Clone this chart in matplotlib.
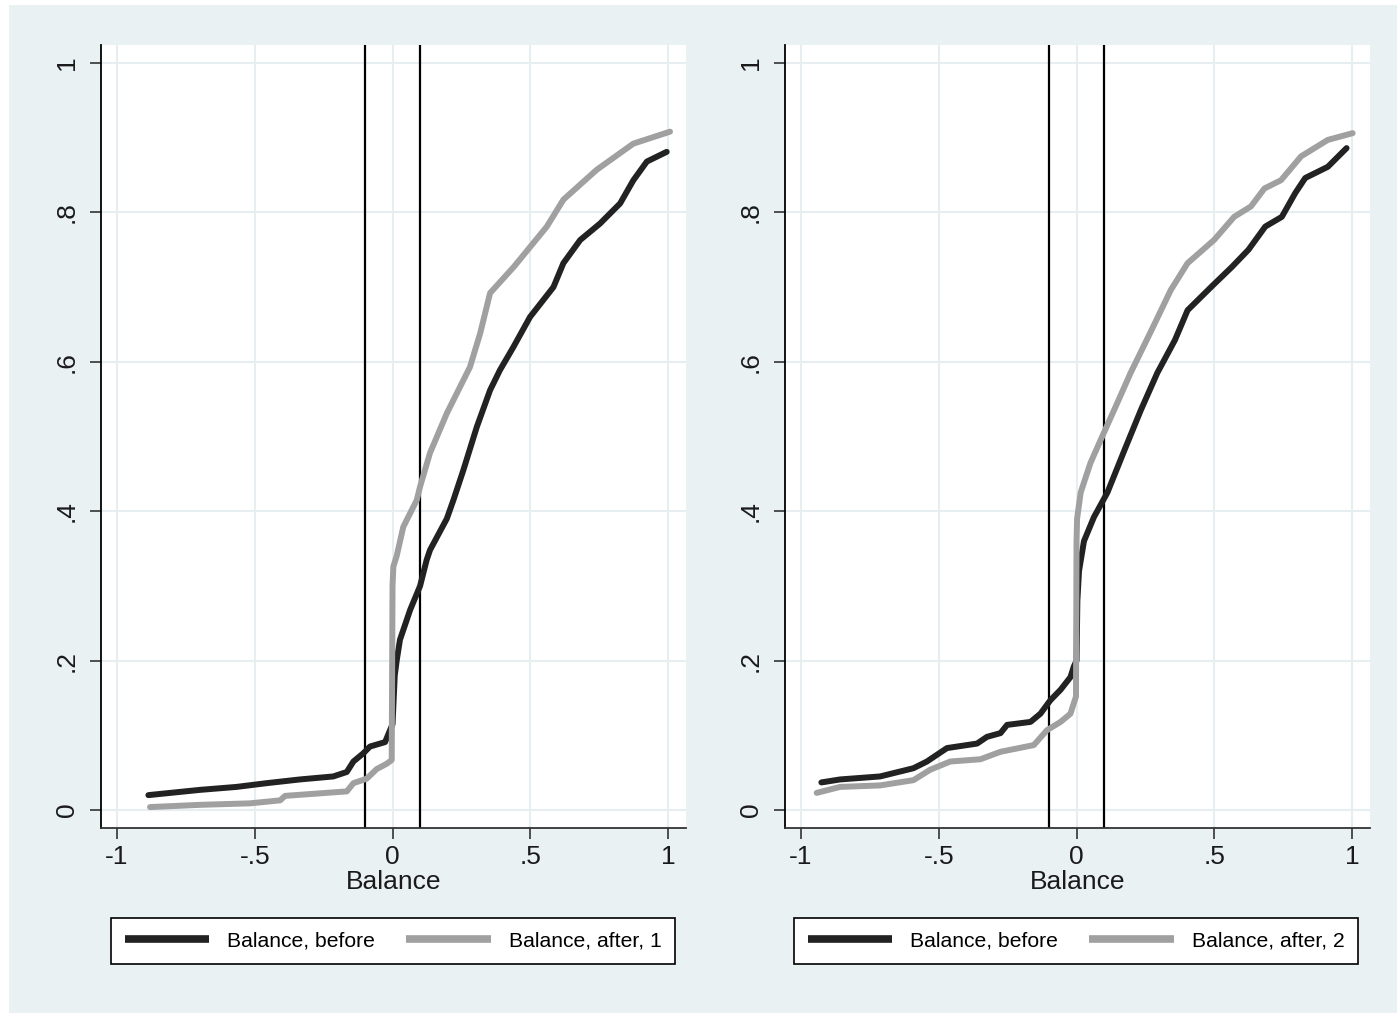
import numpy as np
import matplotlib
matplotlib.use('Agg')
import matplotlib.pyplot as plt
from matplotlib.patches import Rectangle

plt.rcParams['font.family'] = ['Liberation Sans', 'DejaVu Sans']

# --- 데이터 ---
x_ticks = [-1, -0.5, 0, 0.5, 1]
x_ticklabels = ['-1', '-.5', '0', '.5', '1']
y_ticks = [0, 0.2, 0.4, 0.6, 0.8, 1]
y_ticklabels = ['0', '.2', '.4', '.6', '.8', '1']
cutoffs = [-0.1, 0.1]

# 왼쪽 패널
left_before_x = [-0.886, -0.70, -0.566, -0.457, -0.336, -0.215, -0.166, -0.142, -0.106, -0.082,
                 -0.027, -0.009, 0.0, 0.008, 0.015, 0.027, 0.064, 0.10, 0.124, 0.136, 0.197,
                 0.221, 0.257, 0.306, 0.354, 0.39, 0.439, 0.499, 0.584, 0.62, 0.681, 0.753,
                 0.826, 0.874, 0.923, 0.995]
left_before_y = [0.020, 0.027, 0.031, 0.036, 0.041, 0.045, 0.051, 0.065, 0.076, 0.085,
                 0.091, 0.107, 0.115, 0.18, 0.20, 0.228, 0.268, 0.300, 0.335, 0.348, 0.390,
                 0.415, 0.455, 0.513, 0.562, 0.589, 0.620, 0.660, 0.700, 0.732, 0.763, 0.785,
                 0.812, 0.843, 0.868, 0.881]
left_after_x = [-0.880, -0.699, -0.517, -0.408, -0.39, -0.166, -0.142, -0.094, -0.057, -0.021,
                -0.003, 0.0, 0.003, 0.015, 0.039, 0.088, 0.10, 0.136, 0.197, 0.281, 0.318,
                0.354, 0.44, 0.56, 0.62, 0.741, 0.874, 1.007]
left_after_y = [0.004, 0.007, 0.009, 0.013, 0.019, 0.025, 0.036, 0.042, 0.055, 0.062,
                0.067, 0.30, 0.326, 0.34, 0.379, 0.415, 0.433, 0.478, 0.531, 0.593, 0.638,
                0.692, 0.727, 0.781, 0.817, 0.857, 0.892, 0.908]

# 오른쪽 패널
right_before_x = [-0.926, -0.858, -0.713, -0.592, -0.543, -0.47, -0.361, -0.325, -0.276, -0.252,
                  -0.167, -0.131, -0.095, -0.058, -0.022, -0.010, 0.0, 0.003, 0.009, 0.027,
                  0.063, 0.112, 0.172, 0.233, 0.293, 0.357, 0.403, 0.491, 0.564, 0.624, 0.685,
                  0.745, 0.794, 0.830, 0.912, 0.98]
right_before_y = [0.037, 0.041, 0.045, 0.056, 0.065, 0.083, 0.089, 0.098, 0.103, 0.114,
                  0.118, 0.129, 0.147, 0.161, 0.178, 0.192, 0.20, 0.28, 0.320, 0.360,
                  0.392, 0.425, 0.480, 0.535, 0.585, 0.629, 0.669, 0.701, 0.727, 0.750, 0.781,
                  0.794, 0.826, 0.846, 0.861, 0.886]
right_after_x = [-0.943, -0.858, -0.713, -0.592, -0.531, -0.458, -0.349, -0.276, -0.155, -0.107,
                 -0.058, -0.022, -0.002, 0.0, 0.002, 0.015, 0.051, 0.087, 0.148, 0.196, 0.269,
                 0.342, 0.403, 0.499, 0.572, 0.633, 0.682, 0.742, 0.815, 0.912, 1.002]
right_after_y = [0.023, 0.031, 0.033, 0.040, 0.054, 0.065, 0.068, 0.078, 0.087, 0.107,
                 0.118, 0.129, 0.152, 0.36, 0.39, 0.425, 0.465, 0.495, 0.545, 0.585, 0.640,
                 0.696, 0.732, 0.763, 0.794, 0.808, 0.832, 0.843, 0.875, 0.897, 0.906]

panels = [
    (left_before_x, left_before_y, left_after_x, left_after_y, 'Balance, after, 1'),
    (right_before_x, right_before_y, right_after_x, right_after_y, 'Balance, after, 2'),
]

BG = '#EAF1F3'
GRID = '#E6EEF1'
BLACK = '#222222'
GRAY = '#A0A0A0'

fig = plt.figure(figsize=(13.97, 10.15), dpi=100, facecolor='white')
fig.patches.append(Rectangle((9 / 1397, 2 / 1015), 1388 / 1397, 1008 / 1015,
                             transform=fig.transFigure, facecolor=BG, edgecolor='none', zorder=-10))

ax_lefts = [101 / 1397, 785 / 1397]
legend_lefts = [111 / 1397, 794 / 1397]

for i, (bx, by, ax_x, ax_y, after_label) in enumerate(panels):
    ax = fig.add_axes([ax_lefts[i], 187 / 1015, 585 / 1397, 783 / 1015], facecolor='white')
    ax.set_xlim(-1.058, 1.065)
    ax.set_ylim(-0.024, 1.024)

    for t in x_ticks:
        ax.axvline(t, color=GRID, lw=1.5, zorder=0)
    for t in y_ticks:
        ax.axhline(t, color=GRID, lw=1.5, zorder=0)

    for c in cutoffs:
        ax.axvline(c, color='black', lw=1.6, zorder=2)

    ax.plot(bx, by, color=BLACK, lw=4.3, solid_joinstyle='round', solid_capstyle='round',
            label='Balance, before', zorder=3)
    ax.plot(ax_x, ax_y, color=GRAY, lw=4.3, solid_joinstyle='round', solid_capstyle='round',
            label=after_label, zorder=3)

    ax.set_xticks(x_ticks)
    ax.set_xticklabels(x_ticklabels)
    ax.set_yticks(y_ticks)
    ax.set_yticklabels(y_ticklabels, rotation=90, va='center')
    ax.tick_params(axis='both', length=8, width=1.2, color='#333333', labelsize=19,
                   labelcolor='#1a1a1a')
    ax.tick_params(axis='y', pad=8)
    ax.tick_params(axis='x', pad=4)

    ax.spines['top'].set_visible(False)
    ax.spines['right'].set_visible(False)
    ax.spines['left'].set_color('black')
    ax.spines['left'].set_linewidth(1.3)
    ax.spines['bottom'].set_color('#333333')
    ax.spines['bottom'].set_linewidth(1.3)

    ax.set_xlabel('Balance', fontsize=19, color='#1a1a1a', labelpad=1)

    leg = ax.legend(loc='lower left', ncol=2, mode='expand',
                    bbox_to_anchor=(legend_lefts[i], 51 / 1015, 564 / 1397, 48 / 1015),
                    bbox_transform=fig.transFigure, fontsize=15.2, frameon=True, fancybox=False,
                    handlelength=4.0, handletextpad=0.85, borderpad=0.65, borderaxespad=0,
                    columnspacing=1.5)
    frame = leg.get_frame()
    frame.set_edgecolor('black')
    frame.set_linewidth(1.2)
    frame.set_facecolor('white')
    frame.set_alpha(1)
    for h in leg.get_lines():
        h.set_linewidth(5.5)
        h.set_solid_capstyle('butt')

fig.savefig('out.png', dpi=100, facecolor=fig.get_facecolor())
